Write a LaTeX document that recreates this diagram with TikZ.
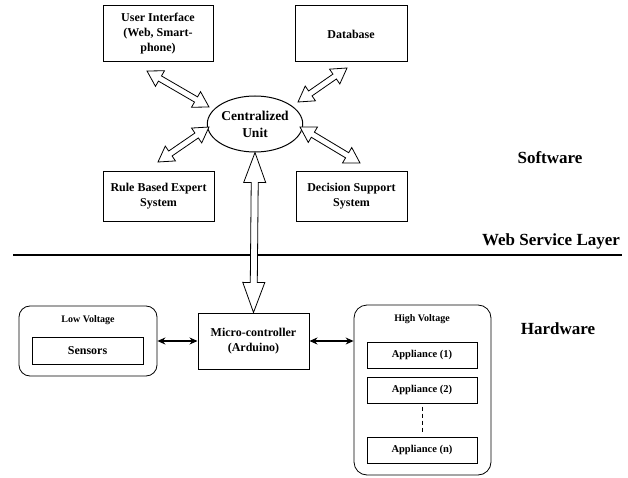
\documentclass[tikz,border=0pt]{standalone}
\usepackage{fontspec}
\setmainfont{Liberation Serif}
\usetikzlibrary{arrows.meta,calc,shapes.geometric}
\newcommand\hollowdbl[5]{%
  \path let \p1=(#1), \p2=(#2), \n1={atan2(\y2-\y1,\x2-\x1)}, \n2={veclen(\x2-\x1,\y2-\y1)} in
    \pgfextra{\xdef\hdang{\n1}\xdef\hdlen{\n2}\xdef\hdx{\x1}\xdef\hdy{\y1}};
  \draw[hollow, shift={(\hdx,\hdy)}, rotate=\hdang]
    (0,0) -- (#5,#4) -- (#5,#3) -- ({\hdlen-#5},#3) -- ({\hdlen-#5},#4) -- (\hdlen,0)
    -- ({\hdlen-#5},-#4) -- ({\hdlen-#5},-#3) -- (#5,-#3) -- (#5,-#4) -- cycle;
}
\begin{document}
\begin{tikzpicture}[x=1pt,y=-1pt,
  box/.style={draw, line width=1pt, align=center, font=\bfseries\fontsize{12}{15}\selectfont, inner sep=0pt},
  rbox/.style={draw, line width=0.8pt, rounded corners=11pt, inner sep=0pt},
  smallbox/.style={draw, line width=1pt, align=center, font=\bfseries\fontsize{10.5}{13}\selectfont, inner sep=0pt},
  grp/.style={font=\bfseries\fontsize{10}{12}\selectfont},
  layer/.style={font=\bfseries\fontsize{17}{20}\selectfont},
  hollow/.style={draw, line width=0.8pt, fill=white, line join=miter},
  solidarr/.style={line width=1.2pt, {Stealth[length=8pt,width=7pt]}-{Stealth[length=8pt,width=7pt]}}
]
\useasboundingbox (0,0) rectangle (628,478);

% software nodes
\node[box, minimum width=110pt, minimum height=56pt] (ui) at (158,34) {User Interface\\(Web, Smart-\\phone)};
\node[box, minimum width=112pt, minimum height=56pt] (db) at (351,34) {Database};
\node[box, minimum width=111pt, minimum height=49pt] (rb) at (158.5,196.5) {Rule Based Expert\\System};
\node[box, minimum width=111pt, minimum height=49pt] (ds) at (351.5,196.5) {Decision Support\\System};
\node[draw, line width=1pt, ellipse, minimum width=87pt, minimum height=56pt, inner sep=0pt, align=center,
      font=\bfseries\fontsize{13.5}{17}\selectfont] (cu) at (255,124) {Centralized\\Unit};

% layer labels
\node[layer] (sw) at (550,158) {Software};
\node[layer] (wsl) at (551,241) {Web Service Layer};
\node[layer] (hw) at (558,329) {Hardware};
\coordinate (l1) at (13,255);
\coordinate (l2) at (622,255);
\draw[line width=2pt] (l1) -- (l2);

% hardware
\node[box, minimum width=111pt, minimum height=56pt] (mc) at (253.5,341) {Micro-controller\\(Arduino)};
\node[rbox, minimum width=138pt, minimum height=70pt] (lv) at (88,341) {};
\node[grp] (lvt) at (88,320) {Low Voltage};
\node[box, minimum width=111pt, minimum height=27pt] (sen) at (87.5,350.5) {Sensors};
\node[rbox, rounded corners=13pt, minimum width=137pt, minimum height=170pt] (hv) at (422.5,390) {};
\node[grp] (hvt) at (422,319) {High Voltage};
\node[smallbox, minimum width=110pt, minimum height=26pt] (a1) at (422,355) {Appliance (1)};
\node[smallbox, minimum width=110pt, minimum height=26pt] (a2) at (422,390) {Appliance (2)};
\node[smallbox, minimum width=110pt, minimum height=26pt] (an) at (422,450) {Appliance (n)};
\draw[line width=1pt, dash pattern=on 4pt off 3pt] ($(a2.south)+(0,3)$) -- ($(an.north)+(0,-4)$);

\draw[solidarr] (lv.east) -- (mc.west);
\draw[solidarr] (mc.east) -- (mc.east -| hv.west);

% hollow arrows
\coordinate (uiA) at (147,71);
\coordinate (uiB) at (209,107);
\coordinate (dbA) at (347,68);
\coordinate (dbB) at (298,102);
\coordinate (rbA) at (209,127);
\coordinate (rbB) at (158,162);
\coordinate (dsA) at (300,127);
\coordinate (dsB) at (360,163);
\hollowdbl{uiA}{uiB}{3}{9}{15}
\hollowdbl{dbA}{dbB}{3}{9}{15}
\hollowdbl{rbA}{rbB}{3}{9}{15}
\hollowdbl{dsA}{dsB}{3}{9}{15}
\hollowdbl{cu.south}{mc.north}{3.5}{11}{30}
\end{tikzpicture}
\end{document}
